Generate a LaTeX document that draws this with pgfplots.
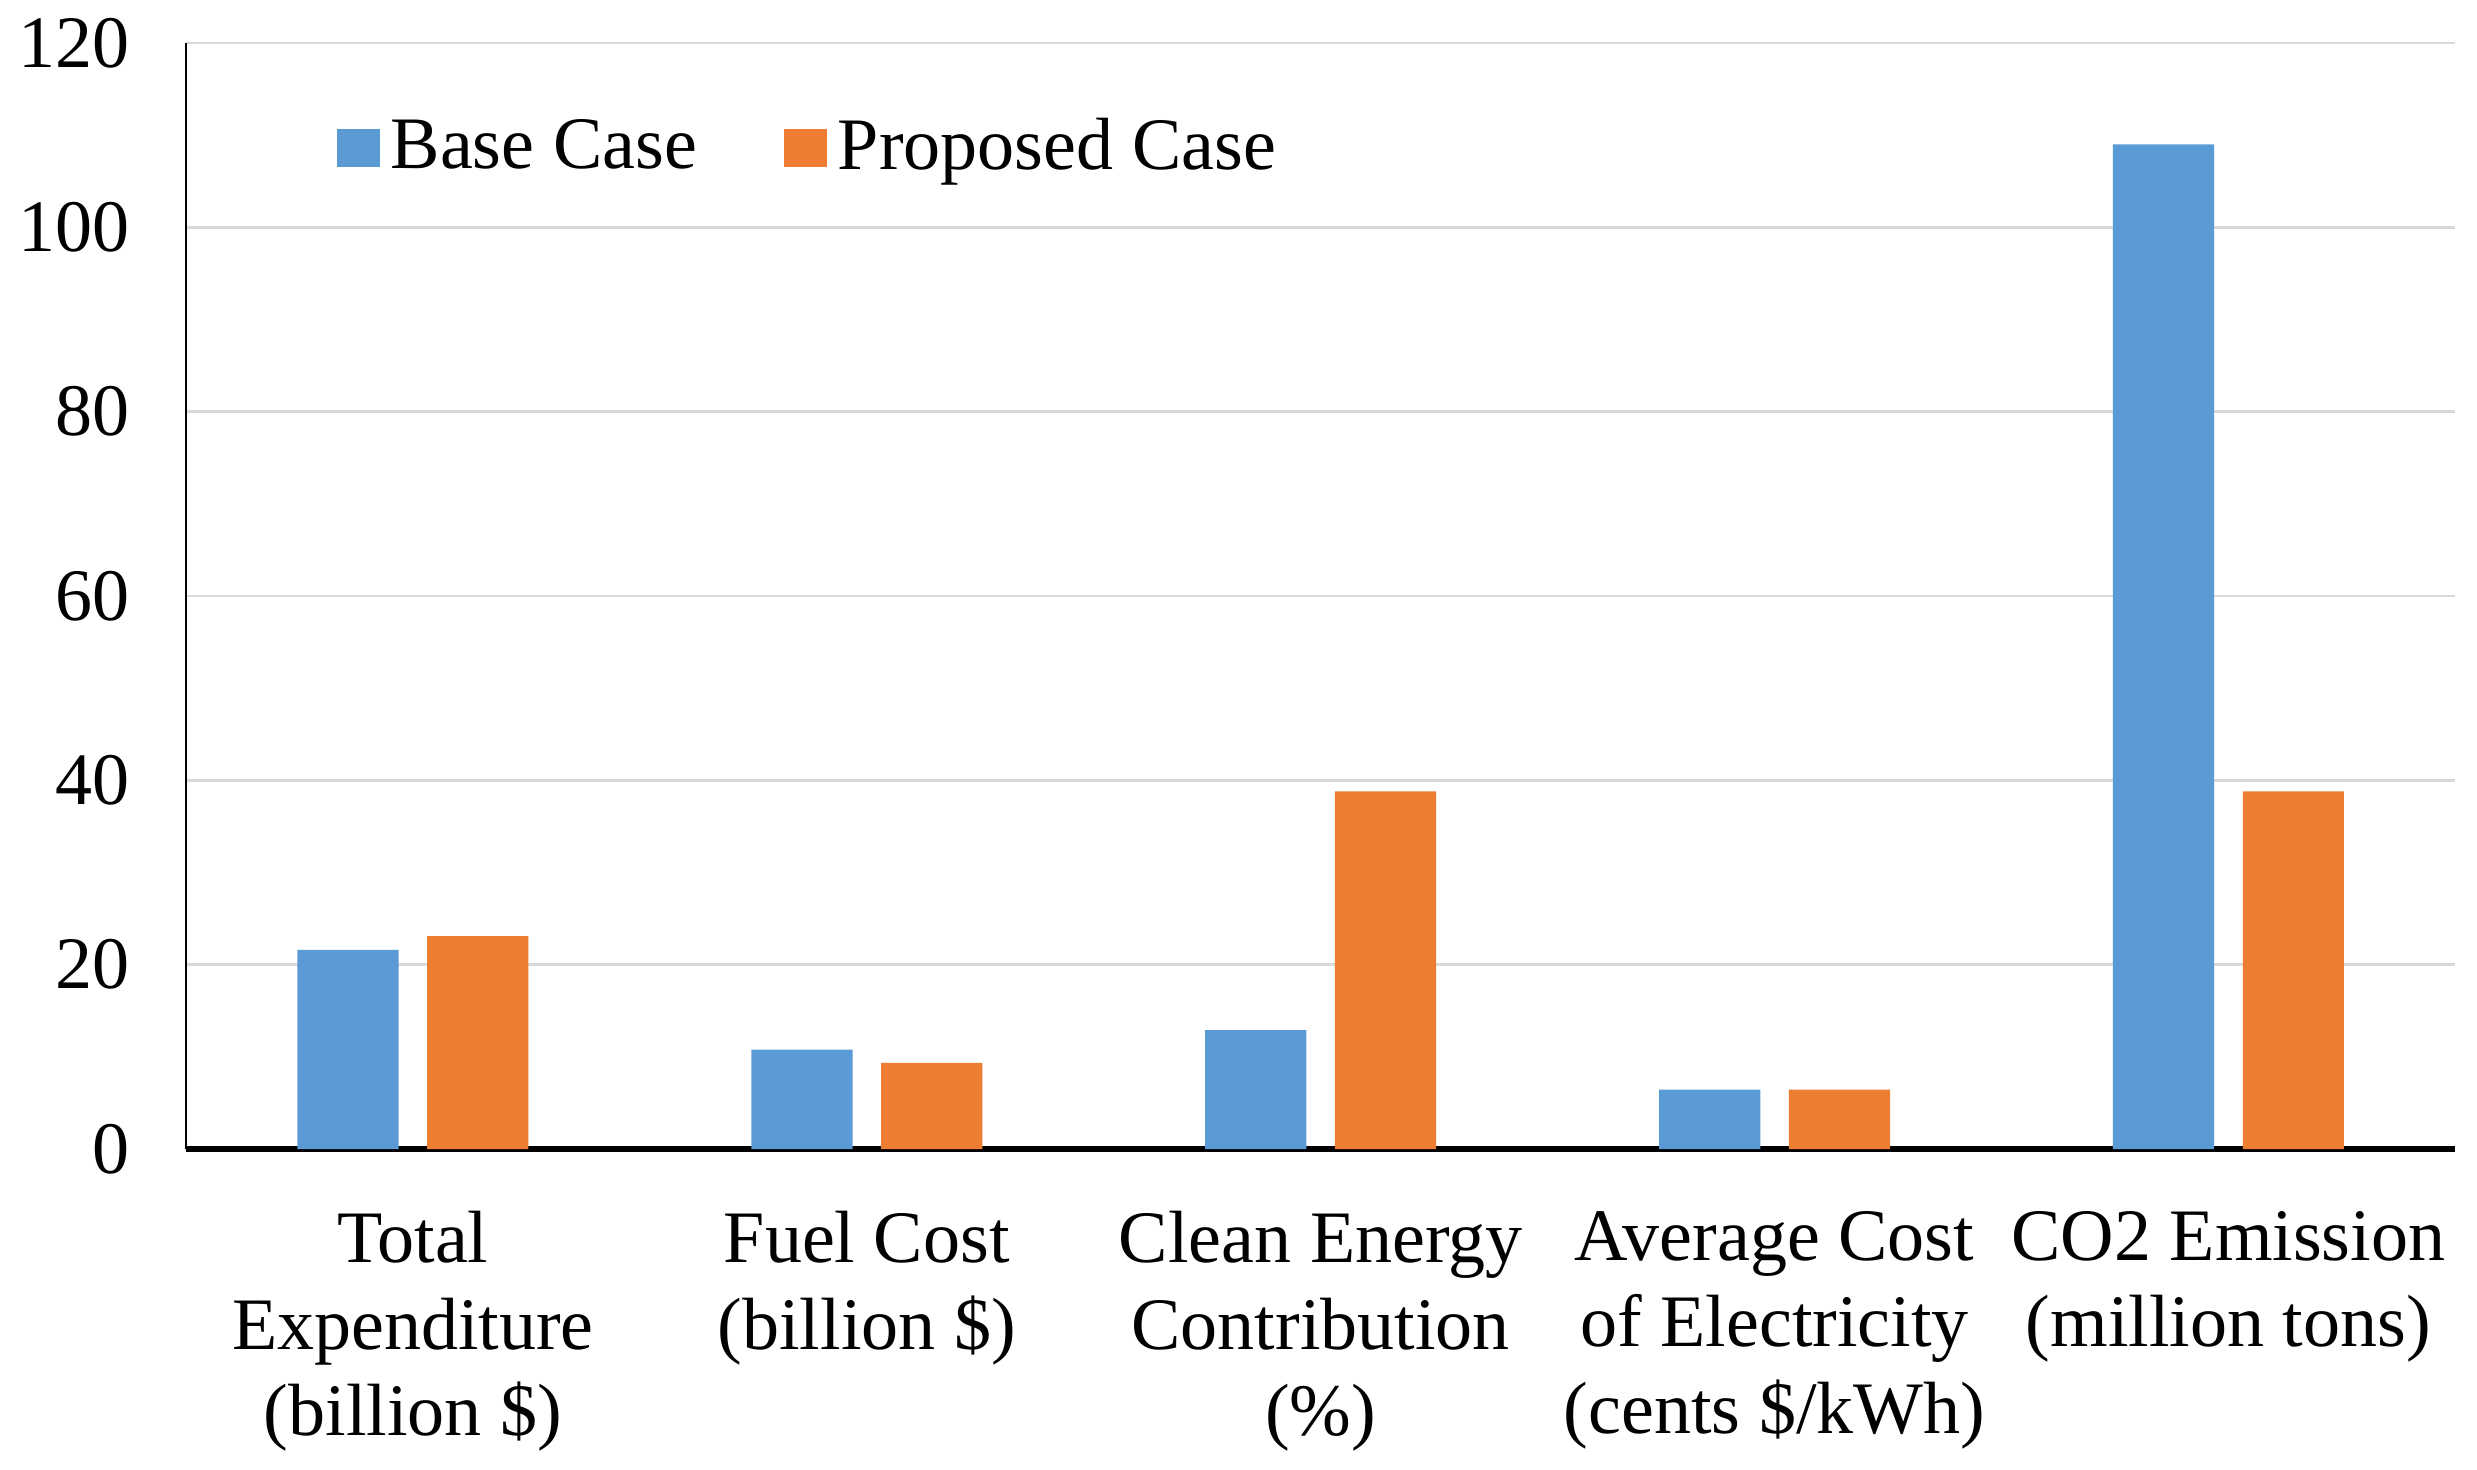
\documentclass[border=0pt]{standalone}
\usepackage{fontspec}
\setmainfont{Liberation Serif}
\usepackage{pgfplots}
\pgfplotsset{compat=1.18}
\definecolor{basecol}{HTML}{5B9BD5}
\definecolor{propcol}{HTML}{ED7D31}
\definecolor{gridcol}{HTML}{D9D9D9}
\newcommand{\lbl}{\fontsize{13.7}{16}\selectfont}
\begin{document}
\begin{tikzpicture}
  \begin{axis}[
      scale only axis,
      width=420pt, height=204.7pt,
      xmin=-0.5, xmax=4.5,
      ymin=0, ymax=120,
      ytick={0,20,...,120},
      xtick={0,1,2,3,4},
      xticklabels={
          {Total\\Expenditure\\(billion \$)},
          {Fuel Cost\\(billion \$)},
          {Clean Energy\\Contribution\\(\%)},
          {Average Cost\\of Electricity\\(cents \$/kWh)},
          {CO2 Emission\\(million tons)}},
      axis x line*=bottom, axis y line*=left,
      x axis line style={line width=1pt},
      y axis line style={line width=0.5pt},
      major tick length=0pt,
      ymajorgrids=true,
      grid style={gridcol, line width=0.5pt},
      ybar,
      /pgf/number format/assume math mode=true,
      yticklabel style={font=\lbl, xshift=-7pt},
      xticklabel style={font=\lbl, align=center, yshift=-8pt},
      legend style={at={(0.059,0.905)}, anchor=west, draw=none, fill=none,
          legend columns=2, font=\lbl,
          /tikz/every even column/.append style={column sep=14.2pt}},
      legend image code/.code={
          \useasboundingbox (0pt,-3.5pt) rectangle (7.9pt,3.5pt);
          \fill[#1] (0pt,-3.5pt) rectangle (7pt,3.5pt);},
    ]

    % base case
    \addplot[fill=basecol, draw=none, bar width=0.223, bar shift=-0.143]
    coordinates {(0,21.6) (1,10.8) (2,12.9) (3,6.45) (4,109.0)};

    % proposed case
    \addplot[fill=propcol, draw=none, bar width=0.223, bar shift=0.143]
    coordinates {(0,23.1) (1,9.35) (2,38.8) (3,6.45) (4,38.8)};

    \legend{Base Case, Proposed Case}
  \end{axis}
  \path ([xshift=4pt]current axis.east);
\end{tikzpicture}
\end{document}
